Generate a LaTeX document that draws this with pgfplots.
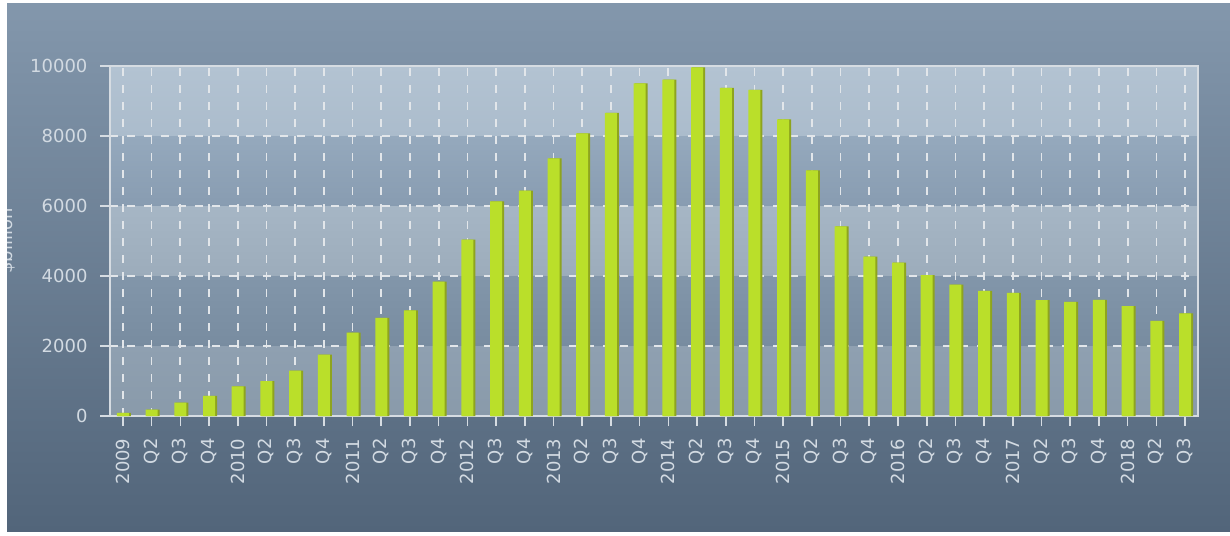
\documentclass[border=0pt]{standalone}
\usepackage{pgfplots}
\pgfplotsset{compat=1.18}
\usepackage{pgfplotstable}
\usepackage{fontspec}
\setmainfont{DejaVu Sans}

\definecolor{paneltop}{HTML}{8397AC}
\definecolor{panelbot}{HTML}{52657A}
\definecolor{axc}{HTML}{D6DCE2}
\definecolor{gridc}{HTML}{E2E6EA}
\definecolor{labc}{HTML}{D2DAE2}
\definecolor{barfill}{HTML}{BADF2A}
\definecolor{barside}{HTML}{8EA41E}
% plot area bands (top / bottom of each)
\definecolor{bandAt}{HTML}{8FA0B1}\definecolor{bandAb}{HTML}{899AAA}
\definecolor{bandBt}{HTML}{8296AA}\definecolor{bandBb}{HTML}{788CA0}
\definecolor{bandCt}{HTML}{A6B6C5}\definecolor{bandCb}{HTML}{9CACBB}
\definecolor{bandDt}{HTML}{95A9BD}\definecolor{bandDb}{HTML}{889CB1}
\definecolor{bandEt}{HTML}{B3C3D2}\definecolor{bandEb}{HTML}{ABBCCC}

% quarterly values, $billion
\pgfplotstableread{
idx val
0 90
1 180
2 380
3 575
4 850
5 1000
6 1300
7 1750
8 2380
9 2800
10 3020
11 3840
12 5040
13 6130
14 6440
15 7360
16 8075
17 8660
18 9505
19 9610
20 9960
21 9375
22 9320
23 8475
24 7015
25 5415
26 4550
27 4385
28 4025
29 3755
30 3575
31 3520
32 3310
33 3260
34 3315
35 3140
36 2720
37 2935
}\quarterly

\begin{document}
\begin{tikzpicture}[x=1pt,y=1pt]
\useasboundingbox (0,0) rectangle (1230,535);
\fill[white] (0,0) rectangle (1230,535);
% outer panel
\shade[top color=paneltop, bottom color=panelbot] (7,4) rectangle (1230,531);
% plot area bands
\shade[top color=bandAt, bottom color=bandAb] (110,119) rectangle (1198,189);
\shade[top color=bandBt, bottom color=bandBb] (110,189) rectangle (1198,259);
\shade[top color=bandCt, bottom color=bandCb] (110,259) rectangle (1198,329);
\shade[top color=bandDt, bottom color=bandDb] (110,329) rectangle (1198,399);
\shade[top color=bandEt, bottom color=bandEb] (110,399) rectangle (1198,469);

\begin{axis}[
  at={(110pt,119pt)}, anchor=south west,
  scale only axis, width=1088pt, height=350pt,
  xmin=-0.45, xmax=37.45, ymin=0, ymax=10000,
  scaled y ticks=false,
  xtick={0,...,37},
  xticklabels={2009,Q2,Q3,Q4,2010,Q2,Q3,Q4,2011,Q2,Q3,Q4,2012,Q3,Q4,
    2013,Q2,Q3,Q4,2014,Q2,Q3,Q4,2015,Q2,Q3,Q4,2016,Q2,Q3,Q4,
    2017,Q2,Q3,Q4,2018,Q2,Q3},
  ytick={0,2000,4000,6000,8000,10000},
  yticklabels={0,2000,4000,6000,8000,10000},
  tick pos=left, tick align=outside, major tick length=10pt,
  tick style={draw=axc, line width=1.6pt},
  axis line style={draw=axc, line width=1.8pt},
  xmajorgrids, ymajorgrids,
  major grid style={draw=gridc, line width=1.7pt, dash pattern=on 8pt off 9pt},
  ticklabel style={text=labc, font=\fontsize{18}{20}\selectfont},
  yticklabel style={anchor=east, xshift=-9pt},
  xticklabel style={rotate=90, anchor=east, yshift=0pt, xshift=-9pt},
]
\addplot[ybar, bar width=13pt, bar shift=1.5pt, fill=barside, draw=none] table[x=idx, y=val] {\quarterly};
\addplot[ybar, bar width=12pt, bar shift=0pt, fill=barfill, draw=none] table[x=idx, y=val] {\quarterly};
\end{axis}

% axis title, partly cut by the panel edge
\node[rotate=90, anchor=base, text=labc, font=\fontsize{18}{20}\selectfont, inner sep=0pt] at (13,294) {\$billion};
\fill[white] (0,0) rectangle (7,535);
\end{tikzpicture}
\end{document}
